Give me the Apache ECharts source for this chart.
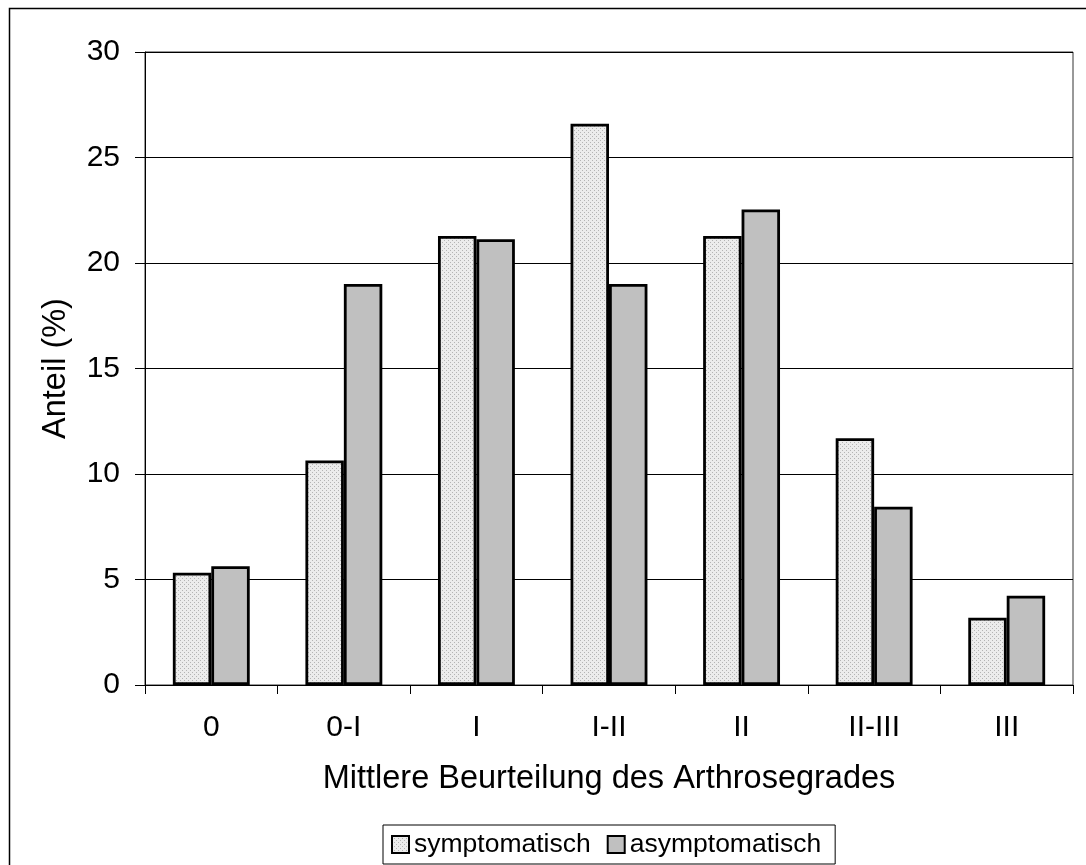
<!DOCTYPE html>
<html>
<head>
<meta charset="utf-8">
<script src="https://cdn.jsdelivr.net/npm/echarts@6/dist/echarts.min.js"></script>
<style>
html,body{margin:0;padding:0;background:#fff;}
#chart{width:1086px;height:865px;}
</style>
</head>
<body>
<div id="chart"></div>
<script>
const categories = ['0', '0-I', 'I', 'I-II', 'II', 'II-III', 'III'];
const symptomatisch = [5.32, 10.64, 21.28, 26.6, 21.28, 11.7, 3.19];
const asymptomatisch = [5.63, 19.01, 21.13, 19.01, 22.54, 8.45, 4.23];
const yTicks = [0, 5, 10, 15, 20, 25, 30];
const seriesNames = ['symptomatisch', 'asymptomatisch'];
const xTitle = 'Mittlere Beurteilung des Arthrosegrades';
const yTitle = 'Anteil (%)';

const FONT = '"Liberation Sans", Arial, sans-serif';

// dotted light-grey pattern for the "symptomatisch" bars
function makePattern() {
  const c = document.createElement('canvas');
  c.width = 4; c.height = 4;
  const ctx = c.getContext('2d');
  ctx.fillStyle = '#ececec';
  ctx.fillRect(0, 0, 4, 4);
  ctx.fillStyle = '#b4b4b4';
  ctx.fillRect(0, 0, 1, 1);
  ctx.fillRect(2, 2, 1, 1);
  return c;
}
const dotted = { image: makePattern(), repeat: 'repeat' };

const chart = echarts.init(document.getElementById('chart'), null, { renderer: 'canvas' });
chart.setOption({
  backgroundColor: '#ffffff',
  animation: false,
  textStyle: { fontFamily: FONT, color: '#000' },
  graphic: [{
    type: 'rect',
    shape: { x: 9.5, y: 8.5, width: 1200, height: 1000 },
    style: { fill: 'none', stroke: '#000', lineWidth: 1.5 },
    silent: true, z: -1
  }],
  grid: {
    left: 145, right: 13, top: 52, bottom: 180,
    show: true, borderColor: '#333', borderWidth: 1, backgroundColor: 'transparent'
  },
  legend: {
    left: 383, top: 825,
    orient: 'horizontal',
    data: seriesNames,
    itemWidth: 17, itemHeight: 17, itemGap: 16,
    padding: [6, 14, 6, 8],
    borderColor: '#000', borderWidth: 1,
    textStyle: { fontFamily: FONT, fontSize: 26.5, color: '#000' },
    icon: 'rect'
  },
  xAxis: {
    type: 'category',
    data: categories,
    boundaryGap: true,
    axisLine: { show: true, lineStyle: { color: '#000', width: 1 } },
    axisTick: { show: true, length: 9, alignWithLabel: false, lineStyle: { color: '#000' } },
    axisLabel: { fontFamily: FONT, fontSize: 30, color: '#000', margin: 28 },
    name: xTitle,
    nameLocation: 'middle',
    nameGap: 78,
    nameTextStyle: { fontFamily: FONT, fontSize: 32.5, color: '#000' }
  },
  yAxis: {
    type: 'value',
    min: 0, max: 30, interval: 5,
    axisLine: { show: true, lineStyle: { color: '#000', width: 1 } },
    axisTick: { show: true, length: 10, lineStyle: { color: '#000' } },
    axisLabel: { fontFamily: FONT, fontSize: 30, color: '#000', margin: 25,
      formatter: v => (yTicks.indexOf(v) >= 0 ? String(v) : '') },
    splitLine: { show: true, lineStyle: { color: '#000', width: 1 } },
    name: yTitle,
    nameLocation: 'middle',
    nameRotate: 90,
    nameGap: 72,
    nameTextStyle: { fontFamily: FONT, fontSize: 32.5, color: '#000' }
  },
  series: [
    {
      name: seriesNames[0], type: 'bar', data: symptomatisch,
      barGap: '0%', barCategoryGap: '42%',
      itemStyle: { color: dotted, borderColor: '#000', borderWidth: 2.8 }
    },
    {
      name: seriesNames[1], type: 'bar', data: asymptomatisch,
      barGap: '0%', barCategoryGap: '42%',
      itemStyle: { color: '#c0c0c0', borderColor: '#000', borderWidth: 2.8 }
    }
  ]
});
</script>
</body>
</html>
